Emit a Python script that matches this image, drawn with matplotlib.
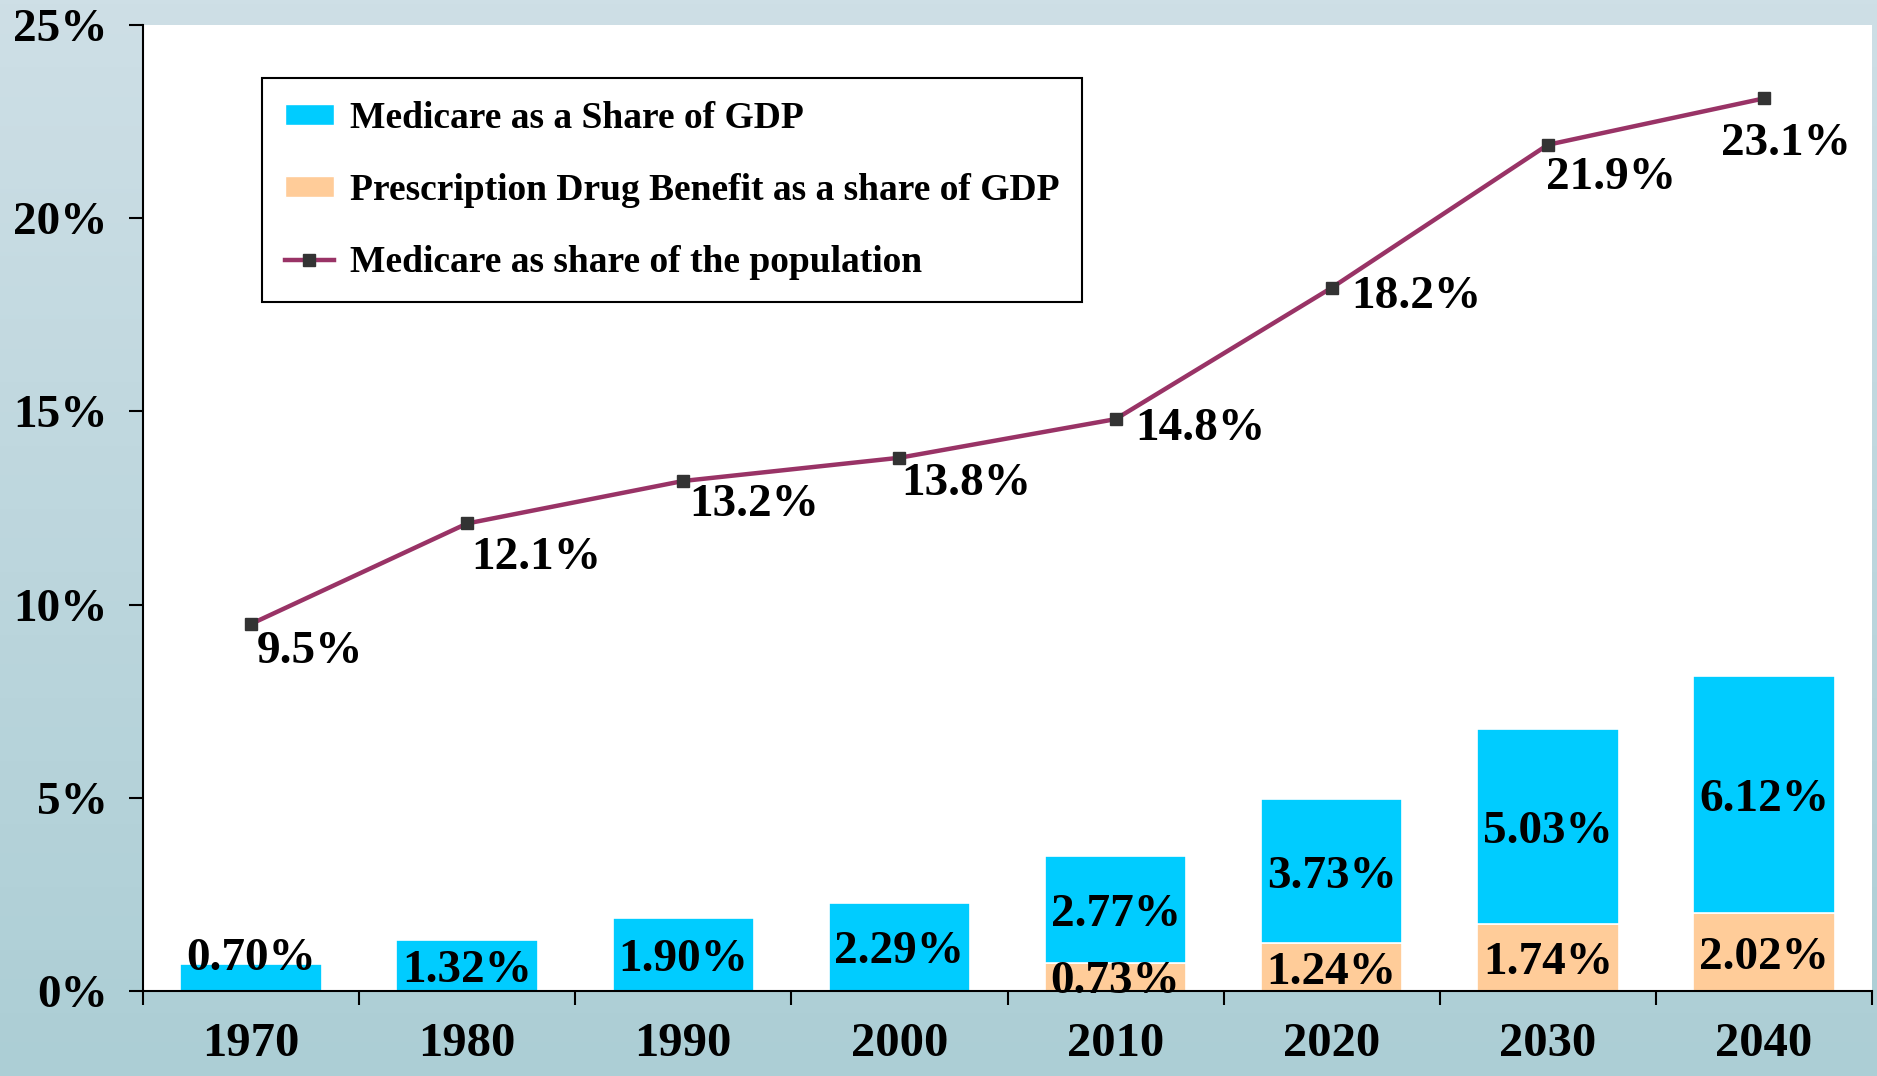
import numpy as np
import matplotlib
matplotlib.use("Agg")
import matplotlib.pyplot as plt
from matplotlib.patches import Patch
from matplotlib.lines import Line2D

# ---------------- data ----------------
years = ["1970", "1980", "1990", "2000", "2010", "2020", "2030", "2040"]
medicare_gdp = [0.70, 1.32, 1.90, 2.29, 2.77, 3.73, 5.03, 6.12]
drug_gdp = [0.0, 0.0, 0.0, 0.0, 0.73, 1.24, 1.74, 2.02]
pop_share = [9.5, 12.1, 13.2, 13.8, 14.8, 18.2, 21.9, 23.1]
y_ticks = [0, 5, 10, 15, 20, 25]
y_tick_labels = ["0%", "5%", "10%", "15%", "20%", "25%"]

# label placement offsets (points) for the population line labels
line_label_offsets = [(4, -17), (3, -22), (4, -14), (1, -16), (14, -4), (14, -4), (-1, -21), (-31, -30)]
blue_label_shift = [17, 0, 0, 0, 0, 0, 0, 0]

BLUE = "#00CCFF"
ORANGE = "#FFCC99"
LINE = "#993366"
FONT = "Liberation Serif"

W, H = 1877, 1076
fig = plt.figure(figsize=(W / 100, H / 100), dpi=100)

# background
bg = fig.add_axes([0, 0, 1, 1], zorder=-10)
grad = np.linspace(0, 1, 256)[:, None]
top = np.array([206, 223, 230]) / 255
bot = np.array([172, 206, 213]) / 255
img = top[None, None, :] * (1 - grad[:, :, None]) + bot[None, None, :] * grad[:, :, None]
bg.imshow(img, aspect="auto", extent=[0, 1, 0, 1])
bg.set_axis_off()

left, right, topp, bottom = 143, 1872, 25, 991
ax = fig.add_axes([left / W, (H - bottom) / H, (right - left) / W, (bottom - topp) / H])
ax.set_facecolor("white")

x = np.arange(len(years))
bw = 0.655
ax.bar(x, drug_gdp, width=bw, color=ORANGE, edgecolor="white", linewidth=1.2, zorder=2)
ax.bar(x, medicare_gdp, width=bw, bottom=drug_gdp, color=BLUE, edgecolor="white", linewidth=1.2, zorder=2)
ax.plot(x, pop_share, color=LINE, linewidth=3.2, marker="s", markersize=8,
        markerfacecolor="#333333", markeredgecolor="#333333", zorder=4)

tfont = dict(family=FONT, weight="bold", size=34, color="black")
for i in range(len(years)):
    yc = drug_gdp[i] + medicare_gdp[i] / 2
    ax.annotate(f"{medicare_gdp[i]:.2f}%", (x[i], yc), xytext=(0, blue_label_shift[i] - 4),
                textcoords="offset points", ha="center", va="center", zorder=5, **tfont)
    if drug_gdp[i] > 0:
        ax.annotate(f"{drug_gdp[i]:.2f}%", (x[i], drug_gdp[i] / 2), xytext=(0, -4),
                    textcoords="offset points", ha="center", va="center", zorder=5, **tfont)
    dx, dy = line_label_offsets[i]
    ax.annotate(f"{pop_share[i]:.1f}%", (x[i], pop_share[i]), xytext=(dx, dy - 3),
                textcoords="offset points", ha="left", va="center", zorder=5, **tfont)

ax.set_xlim(-0.5, len(years) - 0.5)
ax.set_ylim(0, 25)
ax.set_yticks(y_ticks)
ax.set_yticklabels(y_tick_labels, fontfamily=FONT, fontweight="bold", fontsize=34)
ax.tick_params(axis="y", direction="out", length=10, width=1.5, pad=15.5)

ax.set_xticks(np.arange(-0.5, len(years), 1.0))
ax.set_xticklabels([])
ax.tick_params(axis="x", which="major", direction="out", length=10, width=1.5)
ax.set_xticks(x, minor=True)
ax.set_xticklabels(years, minor=True, fontfamily=FONT, fontweight="bold", fontsize=35)
ax.tick_params(axis="x", which="minor", length=0, pad=22.5)

for s in ["top", "right"]:
    ax.spines[s].set_visible(False)
for s in ["left", "bottom"]:
    ax.spines[s].set_linewidth(1.5)
    ax.spines[s].set_color("black")

handles = [
    Patch(facecolor=BLUE, edgecolor="white"),
    Patch(facecolor=ORANGE, edgecolor="white"),
    Line2D([0], [0], color=LINE, linewidth=3.2, marker="s", markersize=8,
           markerfacecolor="#333333", markeredgecolor="#333333"),
]
labels = ["Medicare as a Share of GDP", "Prescription Drug Benefit as a share of GDP",
          "Medicare as share of the population"]
leg = ax.legend(handles, labels, loc="upper left", bbox_to_anchor=((262 - left) / (right - left), (bottom - 78) / (bottom - topp)),
                borderaxespad=0, prop=dict(family=FONT, weight="bold", size=27),
                frameon=True, fancybox=False, framealpha=1, edgecolor="black",
                borderpad=0.6, labelspacing=0.99, handlelength=1.33, handleheight=0.5,
                handletextpad=0.42)
leg.get_frame().set_linewidth(1.5)
leg.set_zorder(6)

fig.savefig("out.png", dpi=100, facecolor=fig.get_facecolor())
